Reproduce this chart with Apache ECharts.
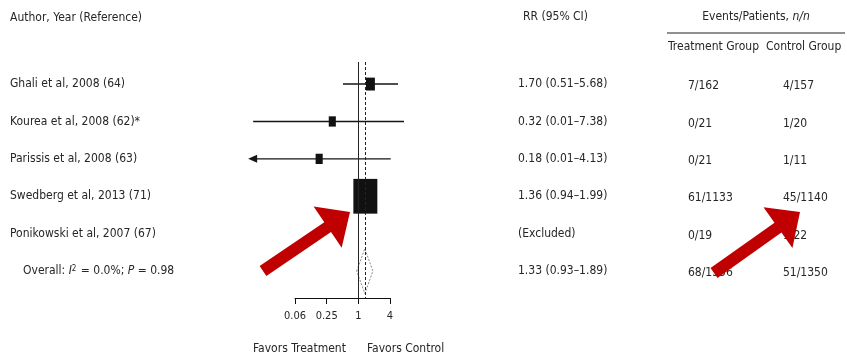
<!DOCTYPE html>
<html>
<head>
<meta charset="utf-8">
<script src="https://cdn.jsdelivr.net/npm/echarts@6/dist/echarts.min.js"></script>
<style>
  html, body { margin: 0; padding: 0; background: #fff; }
  #chart { width: 847px; height: 358px; }
</style>
</head>
<body>
<div id="chart"></div>
<script>
// Study rows, top to bottom
const studies = [
  'Ghali et al, 2008 (64)',
  'Kourea et al, 2008 (62)*',
  'Parissis et al, 2008 (63)',
  'Swedberg et al, 2013 (71)',
  'Ponikowski et al, 2007 (67)'
];
// Relative risk and 95% CI per study (null = excluded)
const rr     = [1.70, 0.32, 0.18, 1.36, null];
const ciLow  = [0.51, 0.01, 0.01, 0.94, null];
const ciHigh = [5.68, 7.38, 4.13, 1.99, null];
// Study weights (%) shown by box area
const weights = [11, 7, 7, 80, 0];
// CI extends beyond the plotted range
const truncatedLow = [false, false, true, false, false];
// Events / patients
const treatment = ['7/162', '0/21', '0/21', '61/1133', '0/19'];
const control   = ['4/157', '1/20', '1/11', '45/1140', '1/22'];
// Pooled estimate
const overallRR = 1.33, overallLow = 0.93, overallHigh = 1.89;
const overallTreatment = '68/1356', overallControl = '51/1350';
const iSquared = '0.0%', pHet = '0.98';
// Axis ticks
const tickValues = [0.0625, 0.25, 1, 4];
const tickLabels = ['0.06', '0.25', '1', '4'];

const FONT = "'Liberation Sans Narrow', 'DejaVu Sans Condensed', 'Roboto Condensed', sans-serif";
const INK = '#262626';
const fmt = v => v.toFixed(2);

const nRows = studies.length + 1;
const overallRow = studies.length;

const studyData = [];
rr.forEach((v, i) => {
  if (v != null) studyData.push([v, i, ciLow[i], ciHigh[i], weights[i], truncatedLow[i] ? 1 : 0]);
});

const rowData = [];
for (let i = 0; i < nRows; i++) rowData.push([1, i]);

function txt(x, y, text, extra) {
  return {
    type: 'text', x: x, y: y,
    style: Object.assign({
      text: text, fontFamily: FONT, fontSize: 12, fill: INK,
      align: 'left', verticalAlign: 'middle'
    }, extra || {})
  };
}

function renderStudy(params, api) {
  const row = api.value(1);
  const c = api.coord([api.value(0), row]);
  const pLo = api.coord([api.value(2), row]);
  const pHi = api.coord([api.value(3), row]);
  const w = api.value(4);
  const y = c[1];
  const kids = [{
    type: 'line',
    shape: { x1: pLo[0], y1: y, x2: pHi[0], y2: y },
    style: { stroke: '#151515', lineWidth: 1.4 }
  }];
  if (api.value(5) === 1) {
    kids.push({
      type: 'polygon',
      shape: { points: [[pLo[0] - 5, y], [pLo[0] + 4, y - 4], [pLo[0] + 4, y + 4]] },
      style: { fill: '#151515' }
    });
  }
  const bw = 2.68 * Math.sqrt(w);
  const bh = bw * 1.45;
  kids.push({
    type: 'rect',
    shape: { x: c[0] - bw / 2, y: y - bh / 2, width: bw, height: bh },
    style: { fill: '#111' }
  });
  return { type: 'group', children: kids };
}

function renderOverall(params, api) {
  const row = api.value(1);
  const c = api.coord([api.value(0), row]);
  const pLo = api.coord([api.value(2), row]);
  const pHi = api.coord([api.value(3), row]);
  const half = api.size([0, 0.6])[1];
  return {
    type: 'polygon',
    shape: { points: [[pLo[0], c[1]], [c[0], c[1] - half], [pHi[0], c[1]], [c[0], c[1] + half]] },
    style: { fill: 'rgba(255,255,255,0.6)', stroke: '#8a8a8a', lineWidth: 1, lineDash: [2, 1.5] }
  };
}

function renderRowText(params, api) {
  const i = api.value(1);
  const y = api.coord([1, i])[1];
  const kids = [];
  if (i < studies.length) {
    kids.push(txt(10, y, studies[i]));
    kids.push(txt(518, y, rr[i] == null ? '(Excluded)' :
      fmt(rr[i]) + ' (' + fmt(ciLow[i]) + '–' + fmt(ciHigh[i]) + ')'));
    kids.push(txt(688, y + 2, treatment[i]));
    kids.push(txt(783, y + 2, control[i]));
  } else {
    kids.push(txt(23, y, 'Overall: {it|I}{sup|2} = ' + iSquared + '; {it|P} = ' + pHet, {
      rich: {
        it: { fontFamily: FONT, fontSize: 12, fontStyle: 'italic', fill: INK },
        sup: { fontFamily: FONT, fontSize: 8, fill: INK, verticalAlign: 'top', padding: [0, 1, 0, 0] }
      }
    }));
    kids.push(txt(518, y, fmt(overallRR) + ' (' + fmt(overallLow) + '–' + fmt(overallHigh) + ')'));
    kids.push(txt(688, y + 2, overallTreatment));
    kids.push(txt(783, y + 2, overallControl));
  }
  return { type: 'group', children: kids };
}

// Thick annotation arrow from tail to tip
function arrowShape(tail, tip, shaftW, headW, headL) {
  const dx = tip[0] - tail[0], dy = tip[1] - tail[1];
  const len = Math.hypot(dx, dy);
  const ux = dx / len, uy = dy / len;
  const nx = -uy, ny = ux;
  const bx = tip[0] - ux * headL, by = tip[1] - uy * headL;
  const s = shaftW / 2, h = headW / 2;
  return [
    [tail[0] + nx * s, tail[1] + ny * s],
    [bx + nx * s, by + ny * s],
    [bx + nx * h, by + ny * h],
    tip,
    [bx - nx * h, by - ny * h],
    [bx - nx * s, by - ny * s],
    [tail[0] - nx * s, tail[1] - ny * s]
  ];
}

const chart = echarts.init(document.getElementById('chart'), null, { renderer: 'canvas' });

chart.setOption({
  animation: false,
  backgroundColor: '#fff',
  grid: { left: 295, right: 457, top: 62, bottom: 60, containLabel: false },
  xAxis: {
    type: 'log',
    logBase: 4,
    position: 'bottom',
    min: tickValues[0],
    max: tickValues[tickValues.length - 1],
    axisLine: { show: true, onZero: false, lineStyle: { color: '#111', width: 1 } },
    axisTick: { show: true, inside: false, length: 6, lineStyle: { color: '#111' } },
    minorTick: { show: false },
    splitLine: { show: false },
    axisLabel: {
      margin: 13, fontFamily: FONT, fontSize: 11, color: INK,
      formatter: v => {
        const k = tickValues.findIndex(t => Math.abs(t - v) < 1e-6);
        return k >= 0 ? tickLabels[k] : '';
      }
    }
  },
  yAxis: {
    type: 'value', inverse: true, min: -0.59, max: 5.72,
    show: false, splitLine: { show: false }
  },
  series: [
    {
      type: 'custom',
      name: 'rows',
      data: rowData,
      renderItem: renderRowText,
      clip: false,
      silent: true
    },
    {
      type: 'custom',
      name: 'studies',
      data: studyData,
      encode: { x: 0, y: 1 },
      renderItem: renderStudy,
      clip: false,
      z: 3,
      markLine: {
        silent: true,
        symbol: 'none',
        label: { show: false },
        data: [
          { xAxis: 1, lineStyle: { color: '#222', width: 1, type: 'solid' } },
          { xAxis: overallRR, lineStyle: { color: '#222', width: 1, type: [3, 2] } }
        ]
      }
    },
    {
      type: 'custom',
      name: 'overall',
      data: [[overallRR, overallRow, overallLow, overallHigh]],
      encode: { x: 0, y: 1 },
      renderItem: renderOverall,
      clip: false,
      z: 4
    }
  ],
  graphic: [
    { type: 'text', x: 10, y: 18, style: { text: 'Author, Year (Reference)', fontFamily: FONT, fontSize: 12, fill: INK, verticalAlign: 'middle' } },
    { type: 'text', x: 523, y: 17, style: { text: 'RR (95% CI)', fontFamily: FONT, fontSize: 12, fill: INK, verticalAlign: 'middle' } },
    { type: 'text', x: 756, y: 17, style: {
        text: 'Events/Patients, {it|n/n}', fontFamily: FONT, fontSize: 12, fill: INK,
        align: 'center', verticalAlign: 'middle',
        rich: { it: { fontFamily: FONT, fontSize: 12, fontStyle: 'italic', fill: INK } }
    } },
    { type: 'line', shape: { x1: 667, y1: 33, x2: 845, y2: 33 }, style: { stroke: '#222', lineWidth: 1.2 } },
    { type: 'text', x: 668, y: 47, style: { text: 'Treatment Group', fontFamily: FONT, fontSize: 12, fill: INK, verticalAlign: 'middle' } },
    { type: 'text', x: 766, y: 47, style: { text: 'Control Group', fontFamily: FONT, fontSize: 12, fill: INK, verticalAlign: 'middle' } },
    { type: 'text', x: 253, y: 349, style: { text: 'Favors Treatment', fontFamily: FONT, fontSize: 12, fill: INK, verticalAlign: 'middle' } },
    { type: 'text', x: 367, y: 349, style: { text: 'Favors Control', fontFamily: FONT, fontSize: 12, fill: INK, verticalAlign: 'middle' } },
    { type: 'polygon', z: 100, shape: { points: arrowShape([263, 271], [350, 212], 12, 50, 27) }, style: { fill: '#c00000' } },
    { type: 'polygon', z: 100, shape: { points: arrowShape([714, 273], [800, 212], 12, 50, 27) }, style: { fill: '#c00000' } }
  ]
});
</script>
</body>
</html>
